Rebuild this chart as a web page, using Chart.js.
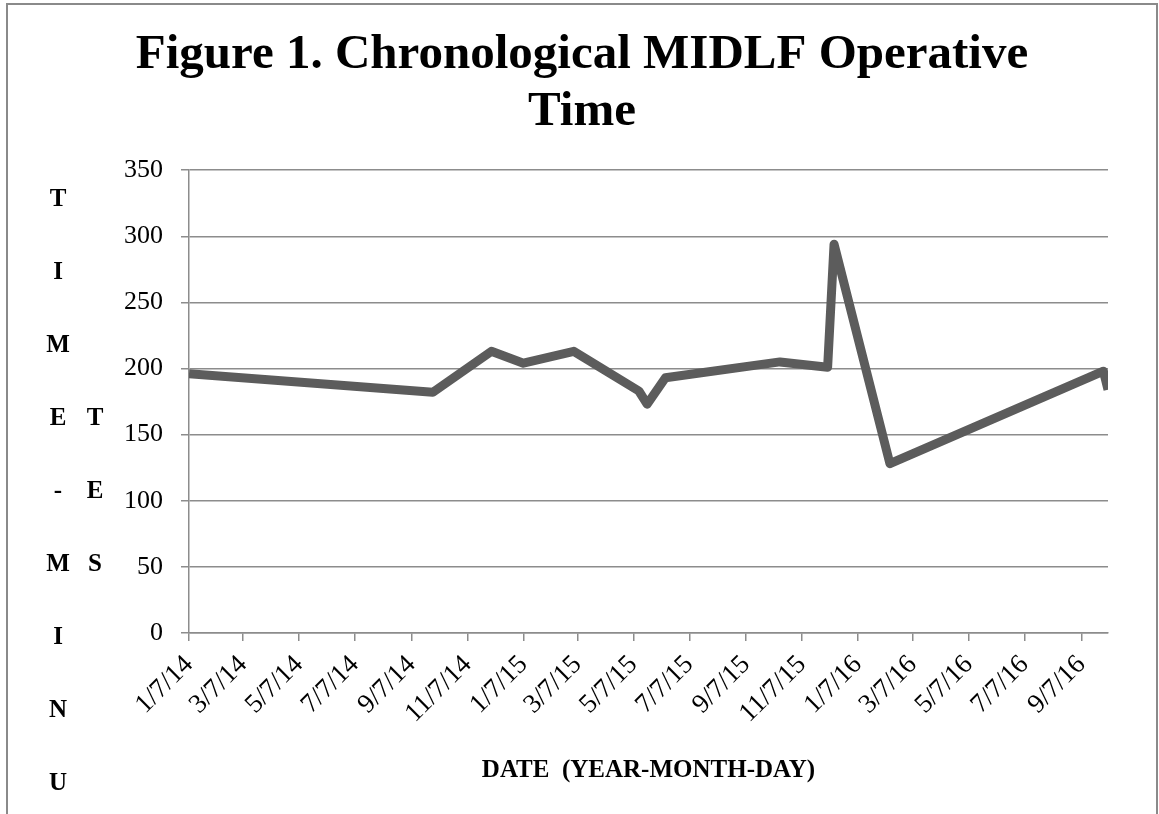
<!DOCTYPE html>
<html>
<head>
<meta charset="utf-8">
<script src="https://cdn.jsdelivr.net/npm/chart.js@4/dist/chart.umd.min.js"></script>
<style>
html, body { margin: 0; padding: 0; background: #fff; }
#wrap { width: 1159px; height: 814px; }
</style>
</head>
<body>
<div id="wrap"><canvas id="midlf"></canvas></div>
<script>
// case dates (m/d/yy) and operative time in minutes
let caseDates = ['1/7/14', '9/30/14', '12/3/14', '1/7/15', '3/3/15', '5/13/15', '5/22/15',
                 '6/11/15', '10/14/15', '12/5/15', '12/12/15', '2/11/16', '10/1/16', '10/6/16'];
let opMinutes = [196, 182, 213, 204, 213, 183, 173, 193, 205, 201, 294, 128, 198, 184];

let tickDates = ['1/7/14', '3/7/14', '5/7/14', '7/7/14', '9/7/14', '11/7/14', '1/7/15', '3/7/15',
                 '5/7/15', '7/7/15', '9/7/15', '11/7/15', '1/7/16', '3/7/16', '5/7/16', '7/7/16', '9/7/16'];
let yMin = 0;
let yMax = 350;
let yStep = 50;

let titleLines = ['Figure 1. Chronological MIDLF Operative', 'Time'];
let xTitle = 'DATE  (YEAR-MONTH-DAY)';
let yTitle = 'TIME-MINUTES';

let serif = '"Liberation Serif", "DejaVu Serif", serif';
let gridGray = '#8c8c8c';

function toDay(s) {
    let p = s.split('/');
    return Date.UTC(2000 + parseInt(p[2]), parseInt(p[0]) - 1, parseInt(p[1])) / 86400000;
}
function fromDay(d) {
    let dt = new Date(d * 86400000);
    return (dt.getUTCMonth() + 1) + '/' + dt.getUTCDate() + '/' + String(dt.getUTCFullYear()).slice(2);
}

let points = caseDates.map(function (d, i) { return { x: toDay(d), y: opMinutes[i] }; });

// outer frame of the figure
const framePlugin = {
    id: 'frame',
    beforeDraw(chart) {
        let ctx = chart.ctx;
        ctx.save();
        ctx.fillStyle = '#fff';
        ctx.fillRect(0, 0, chart.width, chart.height);
        ctx.strokeStyle = '#8a8a8a';
        ctx.lineWidth = 2;
        ctx.strokeRect(7, 4, 1150, 900);
        ctx.restore();
    }
};

// the y title is stacked letter by letter and wraps into a second column
const stackedTitle = {
    id: 'stackedTitle',
    afterDraw(chart) {
        let ctx = chart.ctx;
        ctx.save();
        ctx.font = 'bold 25px ' + serif;
        ctx.fillStyle = '#000';
        ctx.textAlign = 'center';
        ctx.textBaseline = 'middle';
        let letters = yTitle.split('');
        let perCol = 9;
        letters.forEach(function (ch, i) {
            if (i < perCol) {
                ctx.fillText(ch, 58, 200 + 73 * i);
            } else {
                ctx.fillText(ch, 95, 200 + 73 * (i - perCol + 3));
            }
        });
        ctx.restore();
    }
};

new Chart('midlf', {
    type: 'line',
    data: {
        datasets: [{
            data: points,
            borderColor: '#5c5c5c',
            borderWidth: 9,
            borderJoinStyle: 'round',
            pointRadius: 0,
            tension: 0,
            fill: false
        }]
    },
    options: {
        responsive: true,
        maintainAspectRatio: false,
        animation: false,
        layout: { padding: { left: 5, right: 0, top: 0, bottom: 0 } },
        plugins: {
            legend: { display: false },
            tooltip: { enabled: false },
            title: {
                display: true,
                text: titleLines,
                color: '#000',
                font: { family: serif, size: 49, weight: 'bold', lineHeight: 1.165 },
                padding: { top: 27, bottom: 29 }
            }
        },
        scales: {
            x: {
                type: 'linear',
                min: toDay(caseDates[0]),
                max: toDay(caseDates[caseDates.length - 1]),
                afterBuildTicks(scale) {
                    scale.ticks = tickDates.map(function (d) { return { value: toDay(d) }; });
                },
                afterFit(scale) {
                    scale.height = 814 - 633;
                    scale.paddingLeft = 0;
                    scale.paddingRight = 0;
                },
                grid: { display: true, drawOnChartArea: false, drawTicks: true, tickLength: 8, color: gridGray, lineWidth: 1.5 },
                border: { display: true, color: gridGray, width: 1.5 },
                ticks: {
                    autoSkip: false,
                    maxRotation: 45,
                    minRotation: 45,
                    padding: 8,
                    color: '#000',
                    font: { family: serif, size: 27 },
                    callback: function (v) { return fromDay(v); }
                },
                title: {
                    display: true,
                    text: xTitle,
                    color: '#000',
                    font: { family: serif, size: 25, weight: 'bold' },
                    padding: { top: 0, bottom: 28 }
                }
            },
            y: {
                min: yMin,
                max: yMax,
                afterFit(scale) {
                    scale.width = 184;
                    scale.paddingTop = 0;
                    scale.paddingBottom = 0;
                },
                grid: { color: gridGray, lineWidth: 1.5, tickLength: 8 },
                border: { display: true, color: gridGray, width: 1.5 },
                ticks: {
                    stepSize: yStep,
                    padding: 18,
                    color: '#000',
                    font: { family: serif, size: 26 }
                }
            },
            // empty right-hand gutter, so the title stays centred on the whole figure
            gutter: {
                position: 'right',
                display: true,
                afterFit(scale) {
                    scale.width = 51;
                },
                grid: { display: false },
                border: { display: false },
                ticks: { display: false }
            }
        }
    },
    plugins: [framePlugin, stackedTitle]
});
</script>
</body>
</html>
